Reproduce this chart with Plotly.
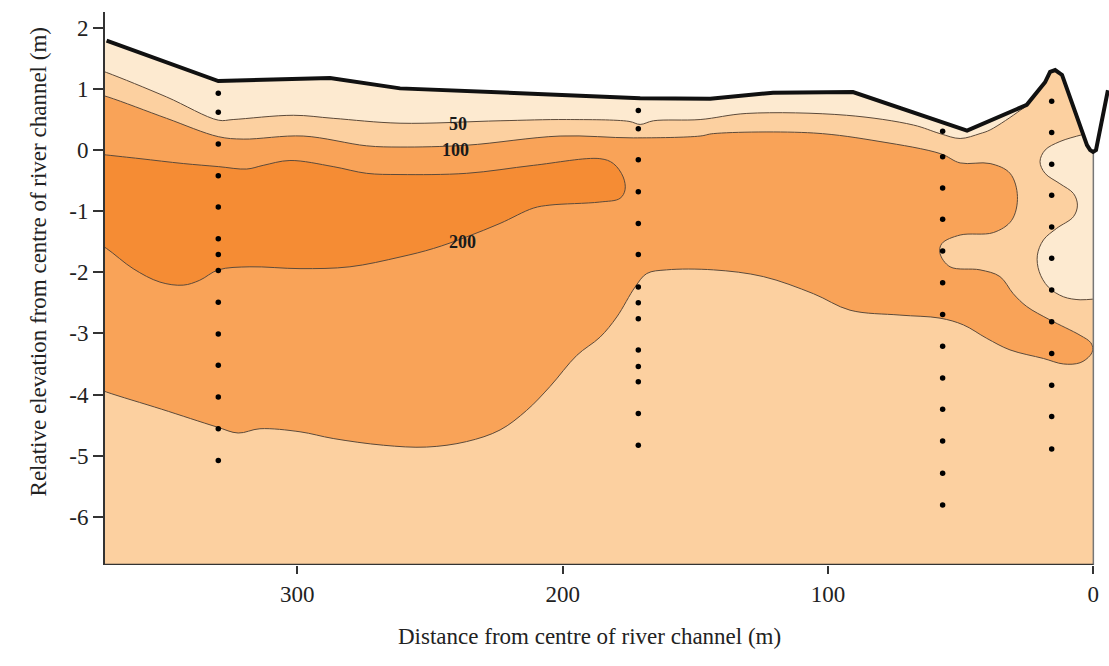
import plotly.graph_objects as go

# ---- ground surface (thick black profile) ----
terrain_x = [371.9, 329.8, 287.7, 261.3, 193.5, 170.8, 144.4, 120.7, 90.6, 47.6,
             25.1, 18.2, 16.3, 14.4, 11.8, 2.4, 1.2, 0.1, -1.0, -2.5, -5.5]
terrain_y = [1.79, 1.13, 1.18, 1.01, 0.89, 0.85, 0.84, 0.94, 0.95, 0.32,
             0.74, 1.11, 1.28, 1.31, 1.23, 0.08, 0.0, -0.03, 0.0, 0.33, 0.98]

# ---- 50 contour ----
c50_x = [378, 371.9, 349.3, 329.8, 324.2, 301.5, 286.5, 261.3, 223.6, 198.5, 175.0,
         170.8, 165.8, 148.2, 130.6, 93.0, 67.8, 57.8, 50.2, 42.7, 38.9, 27.6, 25.1]
c50_y = [1.36, 1.27, 0.87, 0.49, 0.50, 0.57, 0.52, 0.44, 0.48, 0.50, 0.47,
         0.42, 0.48, 0.50, 0.60, 0.57, 0.41, 0.27, 0.19, 0.27, 0.33, 0.65, 0.74]

# ---- low-value pocket beside the channel (below 50) ----
pocket_x = [-3, 0.0, 4.4, 12.6, 18.2, 20.1, 18.2, 12.6, 7.5, 6.0, 7.5, 13.8, 18.8,
            21.1, 20.4, 17.0, 11.3, 5.0, 0.4, -3, -3]
pocket_y = [0.5, 0.3, 0.25, 0.14, 0.0, -0.19, -0.38, -0.55, -0.71, -0.90, -1.09, -1.28,
            -1.47, -1.72, -1.99, -2.24, -2.40, -2.45, -2.44, -2.44, 0.5]

# ---- 100 contour (closed region above 100) ----
c100_x = [378, 371.4, 349.3, 329.8, 320.4, 297.8, 273.9, 261.3, 236.2, 201.0, 173.4,
          148.2, 143.2, 105.5, 80.4, 57.5, 50.2, 38.9, 31.4, 28.6, 30.8, 37.7, 50.2,
          57.1, 57.8, 54.0, 42.7, 35.2, 30.2, 25.1, 16.3, 5.0, 1.0, 0.2, 1.2, 5.0,
          11.3, 18.8, 31.4, 40.2, 49.0, 57.8, 72.9, 91.7, 105.5, 124.4, 143.2, 160.8,
          168.3, 172.7, 179.6, 185.9, 194.7, 204.8, 213.6, 223.6, 236.2, 251.3, 267.6,
          286.5, 299.0, 314.1, 322.3, 330.4, 351.2, 371.9, 378]
c100_y = [0.95, 0.87, 0.52, 0.22, 0.18, 0.23, 0.07, 0.05, 0.08, 0.23, 0.20,
          0.23, 0.27, 0.28, 0.14, -0.06, -0.21, -0.22, -0.38, -0.76, -1.15, -1.35, -1.39,
          -1.53, -1.69, -1.91, -1.96, -2.07, -2.35, -2.56, -2.78, -3.03, -3.15, -3.26, -3.36, -3.48,
          -3.50, -3.41, -3.27, -3.08, -2.86, -2.75, -2.70, -2.62, -2.35, -2.07, -1.96, -1.96,
          -2.02, -2.24, -2.73, -3.06, -3.36, -3.87, -4.26, -4.58, -4.77, -4.86, -4.83,
          -4.72, -4.61, -4.56, -4.63, -4.53, -4.24, -3.96, -3.86]

# ---- 200 contour (closed region above 200) ----
c200_x = [378, 371.9, 359.3, 343.0, 329.8, 319.1, 312.9, 302.8, 286.5, 273.9, 261.3,
          236.2, 211.1, 186.0, 180.9, 177.2, 176.5, 178.4, 186.0, 204.8, 211.1, 223.6,
          236.2, 248.7, 261.3, 280.2, 299.0, 317.9, 329.8, 336.8, 343.0, 351.8, 361.9,
          371.9, 378]
c200_y = [-0.05, -0.08, -0.14, -0.22, -0.27, -0.31, -0.25, -0.17, -0.27, -0.38, -0.40,
          -0.38, -0.25, -0.14, -0.22, -0.44, -0.65, -0.79, -0.85, -0.90, -0.95, -1.20,
          -1.42, -1.61, -1.75, -1.91, -1.94, -1.91, -1.96, -2.13, -2.21, -2.16, -1.94,
          -1.61, -1.45]

# ---- sampling points, by borehole column ----
bore_x = [329.8, 171.5, 56.8, 15.7]
bore_y = [
    [0.93, 0.62, 0.10, -0.42, -0.93, -1.45, -1.71, -1.97, -2.49, -3.01, -3.52, -4.04, -4.56, -5.08],
    [0.65, 0.35, -0.16, -0.68, -1.20, -1.71, -2.24, -2.50, -2.76, -3.27, -3.54, -3.79, -4.31, -4.83],
    [0.31, -0.11, -0.62, -1.13, -1.65, -2.17, -2.69, -3.21, -3.73, -4.24, -4.76, -5.29, -5.81],
    [0.80, 0.29, -0.23, -0.74, -1.26, -1.77, -2.29, -2.81, -3.33, -3.85, -4.36, -4.89],
]

# ---- contour labels ----
label_text = ["50", "100", "200"]
label_x = [239.6, 240.5, 237.8]
label_y = [0.42, 0.005, -1.50]

y_ticks = [-6, -5, -4, -3, -2, -1, 0, 1, 2]
x_ticks = [0, 100, 200, 300]

X_RANGE = [372.5, -5.9]
Y_RANGE = [-6.79, 2.26]

C_LOW = "#FDEAD0"
C_50 = "#FCD0A0"
C_100 = "#F9A358"
C_200 = "#F58C34"
C_LINE = "#5c4a3a"
FONT = "Liberation Serif"

fig = go.Figure()


def region(xs, ys, color):
    fig.add_trace(go.Scatter(
        x=xs, y=ys, mode="lines", fill="toself", fillcolor=color,
        line=dict(color=C_LINE, width=1, shape="spline", smoothing=1.0),
        hoverinfo="skip", showlegend=False))


# region above 50: contour, then above the ground (masked later) and round the bottom
r50_x = c50_x + [22, 15, 5, -15, -15, 378]
r50_y = c50_y + [1.3, 1.9, 1.9, 1.9, -8.5, -8.5]
region(r50_x, r50_y, C_50)
region(pocket_x, pocket_y, C_LOW)
region(c100_x, c100_y, C_100)
region(c200_x, c200_y, C_200)

# white mask above the ground surface and beyond the channel centre
mask_x = [380] + terrain_x[:18] + [0, 0, -20, -20, 380]
mask_y = [1.92] + terrain_y[:18] + [-0.03, -9, -9, 4, 4]
fig.add_trace(go.Scatter(
    x=mask_x, y=mask_y, mode="lines", fill="toself", fillcolor="white",
    line=dict(width=0), hoverinfo="skip", showlegend=False))

# channel centre line and base line
fig.add_trace(go.Scatter(
    x=[0, 0], y=[-0.03, Y_RANGE[0]], mode="lines",
    line=dict(color="#777777", width=1.5), hoverinfo="skip", showlegend=False))
fig.add_trace(go.Scatter(
    x=[X_RANGE[0], 0], y=[Y_RANGE[0], Y_RANGE[0]], mode="lines",
    line=dict(color="#333333", width=2.5), hoverinfo="skip", showlegend=False, cliponaxis=False))

# ground surface
fig.add_trace(go.Scatter(
    x=terrain_x, y=terrain_y, mode="lines",
    line=dict(color="#111111", width=4), hoverinfo="skip", showlegend=False))

# sampling points
dots_x, dots_y = [], []
for bx, col in zip(bore_x, bore_y):
    dots_x += [bx] * len(col)
    dots_y += col
fig.add_trace(go.Scatter(
    x=dots_x, y=dots_y, mode="markers",
    marker=dict(color="black", size=5.5), hoverinfo="skip", showlegend=False))

for t, lx, ly in zip(label_text, label_x, label_y):
    fig.add_annotation(x=lx, y=ly, text="<b>%s</b>" % t, showarrow=False,
                       font=dict(family=FONT, size=18, color="#1a1a1a"))

fig.add_annotation(xref="paper", yref="paper", x=0.483, y=-0.1555,
                   text="Distance from centre of river channel (m)", showarrow=False,
                   font=dict(family=FONT, size=23, color="#222222"))
fig.add_annotation(xref="paper", yref="paper", x=-0.0807, y=0.548, textangle=-90,
                   text="Relative elevation from centre of river channel (m)", showarrow=False,
                   font=dict(family=FONT, size=23, color="#222222"))

fig.update_layout(
    width=1109, height=666,
    margin=dict(l=105, r=0, t=12, b=101),
    paper_bgcolor="white", plot_bgcolor=C_LOW,
    font=dict(family=FONT, size=23, color="#222222"),
    xaxis=dict(range=X_RANGE, tickvals=x_ticks, ticktext=[str(v) for v in x_ticks],
               ticks="outside", ticklen=8, tickwidth=1.5, tickcolor="#333333",
               showline=False, showgrid=False, zeroline=False),
    yaxis=dict(range=Y_RANGE, tickvals=y_ticks, ticktext=[str(v) for v in y_ticks],
               ticks="outside", ticklen=10, tickwidth=1.5, tickcolor="#333333",
               showline=True, linewidth=2, linecolor="#333333",
               showgrid=False, zeroline=False),
)

fig.write_html("out.html")
